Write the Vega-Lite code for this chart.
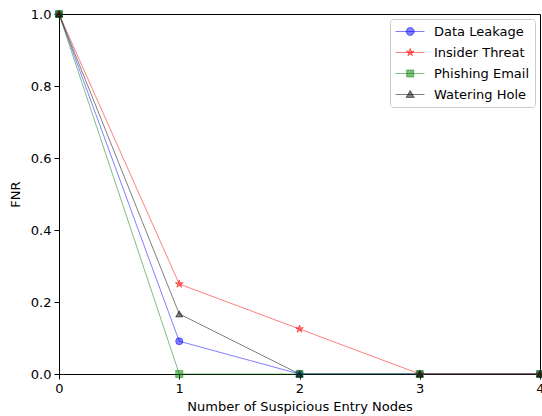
{
  "$schema": "https://vega.github.io/schema/vega-lite/v6.json",
  "width": 481,
  "height": 360,
  "autosize": {"type": "none"},
  "padding": {"left": 59, "top": 14, "right": 2, "bottom": 42},
  "config": {
    "font": "DejaVu Sans",
    "view": {"stroke": "#000000", "strokeWidth": 1},
    "axis": {
      "grid": false,
      "labelFlush": false,
      "domainColor": "#000000",
      "tickColor": "#000000",
      "tickSize": 5,
      "labelColor": "#000000",
      "labelFontSize": 13,
      "labelPadding": 3,
      "titleFontSize": 13,
      "titleFontWeight": "normal",
      "titleColor": "#000000"
    }
  },
  "data": {
    "values": [
      {"series": "Data Leakage", "x": 0, "y": 1.0},
      {"series": "Data Leakage", "x": 1, "y": 0.091},
      {"series": "Data Leakage", "x": 2, "y": 0.0},
      {"series": "Data Leakage", "x": 3, "y": 0.0},
      {"series": "Data Leakage", "x": 4, "y": 0.0},
      {"series": "Insider Threat", "x": 0, "y": 1.0},
      {"series": "Insider Threat", "x": 1, "y": 0.25},
      {"series": "Insider Threat", "x": 2, "y": 0.125},
      {"series": "Insider Threat", "x": 3, "y": 0.0},
      {"series": "Insider Threat", "x": 4, "y": 0.0},
      {"series": "Phishing Email", "x": 0, "y": 1.0},
      {"series": "Phishing Email", "x": 1, "y": 0.0},
      {"series": "Phishing Email", "x": 2, "y": 0.0},
      {"series": "Phishing Email", "x": 3, "y": 0.0},
      {"series": "Phishing Email", "x": 4, "y": 0.0},
      {"series": "Watering Hole", "x": 0, "y": 1.0},
      {"series": "Watering Hole", "x": 1, "y": 0.167},
      {"series": "Watering Hole", "x": 2, "y": 0.0},
      {"series": "Watering Hole", "x": 3, "y": 0.0},
      {"series": "Watering Hole", "x": 4, "y": 0.0}
    ]
  },
  "encoding": {
    "x": {
      "field": "x", "type": "quantitative",
      "scale": {"domain": [0, 4], "nice": false},
      "axis": {"values": [0, 1, 2, 3, 4], "format": "d", "title": "Number of Suspicious Entry Nodes", "titlePadding": 5}
    },
    "y": {
      "field": "y", "type": "quantitative",
      "scale": {"domain": [0, 1], "nice": false},
      "axis": {"values": [0, 0.2, 0.4, 0.6, 0.8, 1.0], "format": ".1f", "title": "FNR", "titlePadding": 8}
    },
    "stroke": {
      "field": "series", "type": "nominal",
      "scale": {"domain": ["Data Leakage", "Insider Threat", "Phishing Email", "Watering Hole"], "range": ["#0000ff", "#ff0000", "#008000", "#000000"]},
      "legend": null
    }
  },
  "layer": [
    {
      "mark": {"type": "line", "strokeWidth": 1, "strokeOpacity": 0.5},
      "encoding": {
        "stroke": {
          "field": "series", "type": "nominal",
          "scale": {"domain": ["Data Leakage", "Insider Threat", "Phishing Email", "Watering Hole"], "range": ["#0000ff", "#ff0000", "#008000", "#000000"]},
          "legend": {
            "title": null,
            "orient": "top-right",
            "offset": 5,
            "padding": 5,
            "rowPadding": 6,
            "cornerRadius": 3,
            "fillColor": "rgba(255,255,255,0.8)",
            "strokeColor": "#cccccc",
            "labelFontSize": 13,
            "labelColor": "#000000",
            "labelOffset": 24,
            "symbolSize": 196,
            "symbolStrokeWidth": 1,
            "encode": {
              "symbols": {
                "update": {
                  "shape": {"signal": "datum.value == 'Data Leakage' ? 'M-1,0H3.14M1.671,0A0.571,0.571,0,1,1,0.529,0A0.571,0.571,0,1,1,1.671,0Z' : datum.value == 'Insider Threat' ? 'M-1,0H3.14M1.1,-0.571L1.228,-0.176L1.643,-0.176L1.307,0.067L1.436,0.462L1.1,0.218L0.764,0.462L0.893,0.067L0.557,-0.176L0.972,-0.176Z' : datum.value == 'Phishing Email' ? 'M-1,0H3.14M0.6,-0.5H1.6V0.5H0.6Z' : 'M-1,0H3.14M1.1,-0.58L1.68,0.42L0.52,0.42Z'"},
                  "fill": {"scale": "stroke", "field": "value"},
                  "stroke": {"scale": "stroke", "field": "value"},
                  "fillOpacity": {"value": 0.5},
                  "strokeOpacity": {"value": 0.5},
                  "strokeWidth": {"value": 1},
                  "size": {"value": 196}
                }
              }
            }
          }
        }
      }
    },
    {
      "transform": [{"filter": "datum.series == 'Data Leakage'"}],
      "mark": {"type": "point", "shape": "circle", "filled": true, "fill": "#0000ff", "fillOpacity": 0.5, "strokeOpacity": 0.5, "strokeWidth": 1, "size": 50}
    },
    {
      "transform": [{"filter": "datum.series == 'Insider Threat'"}],
      "mark": {"type": "point", "shape": "M0,-1.15L0.259,-0.355L1.094,-0.355L0.417,0.136L0.676,0.93L0,0.439L-0.676,0.93L-0.417,0.136L-1.094,-0.355L-0.259,-0.355Z", "filled": true, "fill": "#ff0000", "fillOpacity": 0.5, "strokeOpacity": 0.5, "strokeWidth": 1, "size": 50}
    },
    {
      "transform": [{"filter": "datum.series == 'Phishing Email'"}],
      "mark": {"type": "point", "shape": "square", "filled": true, "fill": "#008000", "fillOpacity": 0.5, "strokeOpacity": 0.5, "strokeWidth": 1, "size": 50}
    },
    {
      "transform": [{"filter": "datum.series == 'Watering Hole'"}],
      "mark": {"type": "point", "shape": "triangle-up", "filled": true, "fill": "#000000", "fillOpacity": 0.5, "strokeOpacity": 0.5, "strokeWidth": 1, "size": 50}
    }
  ]
}
